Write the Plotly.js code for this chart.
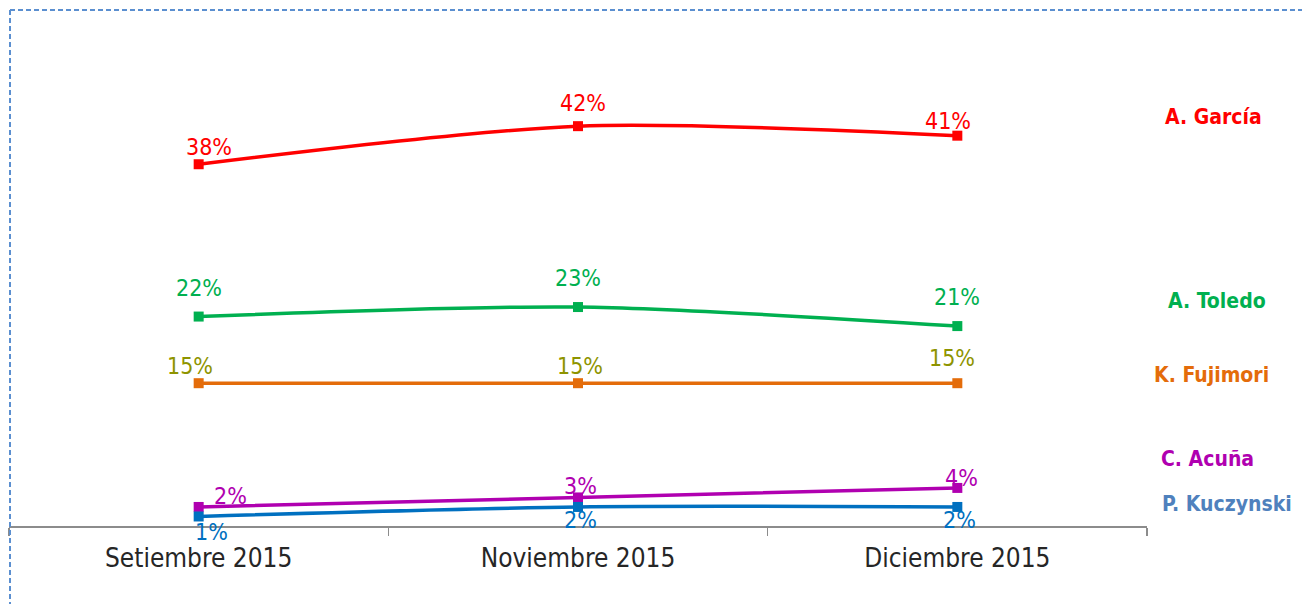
<!DOCTYPE html>
<html><head><meta charset="utf-8">
<script src="https://cdn.plot.ly/plotly-3.0.1.min.js"></script>
<style>html,body{margin:0;padding:0;background:#fff}#chart{width:1302px;height:604px}</style>
</head><body><div id="chart"></div>
<script>
const categories = ["Setiembre 2015", "Noviembre 2015", "Diciembre 2015"];
const seriesNames = ["A. García", "A. Toledo", "K. Fujimori", "C. Acuña", "P. Kuczynski"];
const garcia = [38, 42, 41];
const toledo = [22, 23, 21];
const fujimori = [15, 15, 15];
const acuna = [2, 3, 4];
const kuczynski = [1, 2, 2];
const valueLabels = [
  ["38%", "42%", "41%"],
  ["22%", "23%", "21%"],
  ["15%", "15%", "15%"],
  ["2%", "3%", "4%"],
  ["1%", "2%", "2%"]
];

const allValues = [garcia, toledo, fujimori, acuna, kuczynski];
const lineColors = ["#FF0000", "#00B050", "#E46C0A", "#B000B0", "#0070C0"];
const labelColors = ["#FF0000", "#00B050", "#8E9400", "#B000B0", "#0070C0"];
const nameColors = ["#FF0000", "#00B050", "#E46C0A", "#B000B0", "#4F81BD"];
const labelShift = [
  [[10, 17], [5, 23], [-9, 15]],
  [[0, 29], [0, 29], [0, 29]],
  [[-9, 17], [2, 17], [-5, 25]],
  [[32, 11], [2, 11], [4, 10]],
  [[13, -16], [2, -13], [2, -13]]
];
const nameY = [117, 301, 375, 459, 504];
const nameX = [1213, 1217, 1211, 1207, 1227];

const font = "'DejaVu Sans Condensed', 'Liberation Sans Narrow', sans-serif";
const traces = allValues.map((vals, i) => ({
  type: "scatter", mode: "lines+markers", x: categories, y: vals, name: seriesNames[i],
  line: {color: lineColors[i], width: 3.5, shape: "spline", smoothing: 0.8},
  marker: {symbol: "square", size: 10, color: lineColors[i]},
  hoverinfo: "skip"
}));

const plotL = 9, plotR = 1147, plotT = 50, plotB = 526;
const px2x = p => (p - plotL) / (plotR - plotL);
const px2y = p => (plotB - p) / (plotB - plotT);

const annotations = [];
allValues.forEach((vals, i) => {
  vals.forEach((v, j) => {
    annotations.push({x: categories[j], y: v, xref: "x", yref: "y", text: valueLabels[i][j],
      showarrow: false, xshift: labelShift[i][j][0], yshift: labelShift[i][j][1],
      font: {family: font, size: 23, color: labelColors[i]}});
  });
  annotations.push({x: px2x(nameX[i]), y: px2y(nameY[i]), xref: "paper", yref: "paper",
    text: "<b>" + seriesNames[i] + "</b>", showarrow: false, xanchor: "center", yanchor: "middle",
    font: {family: font, size: 21, color: nameColors[i]}});
});

const layout = {
  width: 1302, height: 604,
  margin: {l: plotL, r: 1302 - plotR, t: plotT, b: 604 - plotB},
  paper_bgcolor: "#fff", plot_bgcolor: "#fff",
  showlegend: false,
  xaxis: {type: "category", range: [-0.5, 2.5], showgrid: false, zeroline: false,
    showline: true, linecolor: "#8C8C8C", linewidth: 1.5,
    ticks: "outside", tickson: "boundaries", ticklen: 8, tickcolor: "#8C8C8C", tickwidth: 1.5,
    ticklabelstandoff: 8,
    tickfont: {family: font, size: 26, color: "#262626"}, fixedrange: true},
  yaxis: {range: [0, 50], visible: false, fixedrange: true},
  annotations: annotations,
  shapes: [
    {type: "line", xref: "paper", yref: "paper", x0: px2x(10), x1: px2x(1302), y0: px2y(10), y1: px2y(10),
      line: {color: "#5B8FD0", width: 2, dash: "5px,3px"}},
    {type: "line", xref: "paper", yref: "paper", x0: px2x(10), x1: px2x(10), y0: px2y(10), y1: px2y(604),
      line: {color: "#5B8FD0", width: 2, dash: "5px,3px"}}
  ]
};
Plotly.newPlot("chart", traces, layout, {displayModeBar: false, staticPlot: true});
</script></body></html>
